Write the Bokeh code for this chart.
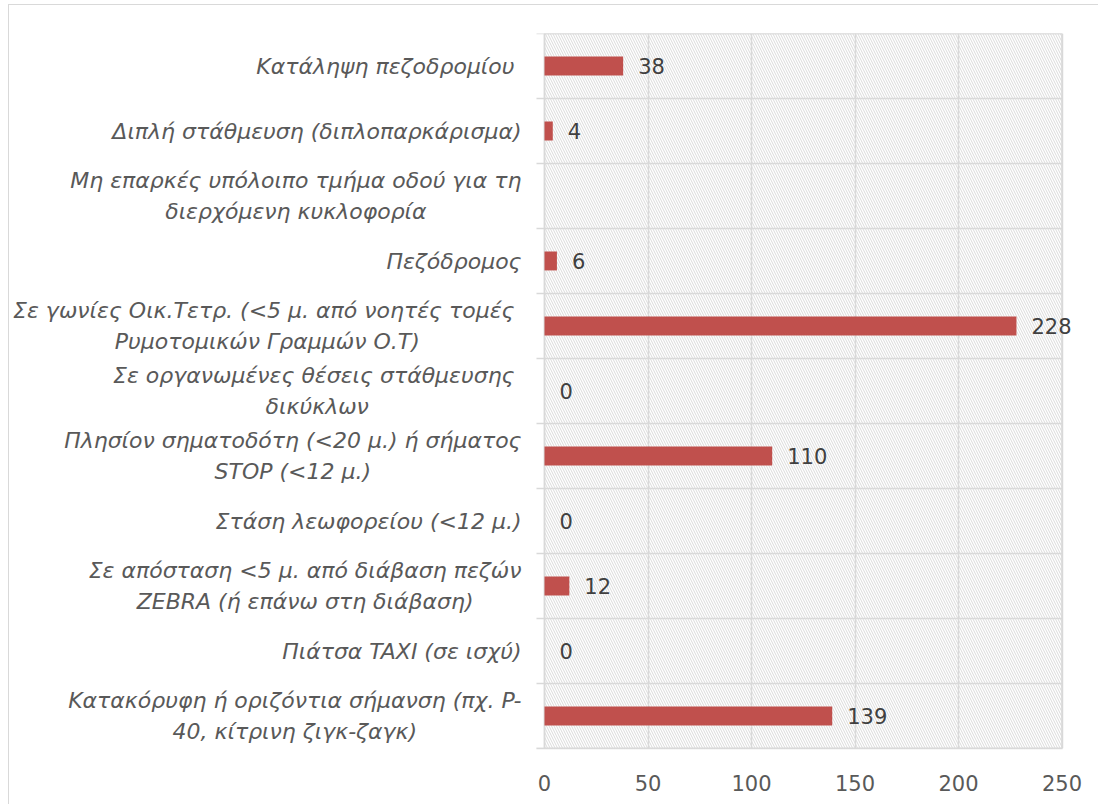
from bokeh.plotting import figure
from bokeh.models import Range1d, FixedTicker, ColumnDataSource
from bokeh.core.properties import value
from bokeh.embed import file_html
from bokeh.resources import INLINE

categories = [
    "Κατάληψη πεζοδρομίου ",
    "Διπλή στάθμευση (διπλοπαρκάρισμα)",
    "Μη επαρκές υπόλοιπο τμήμα οδού για τη\nδιερχόμενη κυκλοφορία",
    "Πεζόδρομος",
    "Σε γωνίες Οικ.Τετρ.  (<5 μ. από νοητές τομές\nΡυμοτομικών Γραμμών Ο.Τ)",
    "Σε οργανωμένες θέσεις στάθμευσης \nδικύκλων",
    "Πλησίον σηματοδότη (<20 μ.) ή σήματος\nSTOP (<12 μ.)",
    "Στάση λεωφορείου (<12 μ.)",
    "Σε απόσταση <5 μ. από διάβαση πεζών\nZEBRA (ή επάνω στη διάβαση)",
    "Πιάτσα TAXI (σε ισχύ)",
    "Κατακόρυφη ή οριζόντια σήμανση (πχ. P-\n40, κίτρινη ζιγκ-ζαγκ)",
]
values = [38, 4, None, 6, 228, 0, 110, 0, 12, 0, 139]
x_ticks = [0, 50, 100, 150, 200, 250]

FONT = "DejaVu Sans"
GRID = "#d9d9d9"
BAR = "#C0504D"

n = len(categories)
ypos = [n - 0.5 - i for i in range(n)]
bar_vals = [v if v is not None else float("nan") for v in values]
lbl_vals = [str(v) if v is not None else "" for v in values]
lbl_x = [v if v is not None else 0 for v in values]

W, H = 1090, 800
px_per = 2.07          # pixels per unit
zero_px = 535          # pixel of x=0 from canvas left
xmax = x_ticks[-1]
x_start = -zero_px / px_per
x_end = (W - zero_px) / px_per

p = figure(width=W, height=H, output_backend="svg", toolbar_location=None,
           x_range=Range1d(x_start, x_end), y_range=Range1d(0, n),
           y_axis_location=None, min_border_left=0, min_border_right=0,
           min_border_top=28, min_border_bottom=57,
           styles={"border-top": "1px solid #d9d9d9", "border-left": "1px solid #d9d9d9",
                   "margin-left": "8px", "margin-top": "4px"})
p.outline_line_color = None
p.background_fill_color = "white"
p.border_fill_color = "white"

# hatched plot area
bg = p.quad(left=[0], right=[xmax], bottom=[0], top=[n], fill_color="white",
            hatch_pattern="\\", hatch_color="#dadada", hatch_scale=5, hatch_weight=1,
            line_color=GRID, line_width=1.5, level="image")

# grid
p.ygrid.visible = False
p.xgrid.ticker = FixedTicker(ticks=x_ticks)
p.xgrid.grid_line_color = GRID
p.xgrid.grid_line_width = 1.5

# category separators with outward ticks
bounds = list(range(n + 1))
p.segment(x0=[-8 / px_per] * len(bounds), x1=[xmax] * len(bounds), y0=bounds, y1=bounds,
          line_color=GRID, line_width=1.5)

src = ColumnDataSource(dict(y=ypos, v=bar_vals, lx=lbl_x, lt=lbl_vals, cat=categories))
p.hbar(y="y", left=0, right="v", height=0.29, source=src, fill_color=BAR, line_color=None)

p.text(x="lx", y="y", text="lt", source=src, x_offset=15, text_baseline="middle",
       text_align="left", text_font=value(FONT), text_font_size="21px", text_color="#404040")

p.text(x=0, y="y", text="cat", source=src, x_offset=-23, anchor="center_right",
       text_align="center", text_baseline="middle", text_font=value(FONT),
       text_font_style="italic", text_font_size="22px", text_color="#595959",
       text_line_height=1.25)

ax = p.xaxis[0]
ax.ticker = FixedTicker(ticks=x_ticks)
ax.bounds = (-8 / px_per, xmax)
ax.axis_line_color = GRID
ax.axis_line_width = 1.5
ax.major_tick_line_color = None
ax.minor_tick_line_color = None
ax.major_label_standoff = 20
ax.major_label_text_font = FONT
ax.major_label_text_font_size = "21px"
ax.major_label_text_color = "#595959"

open("out.html", "w").write(file_html(p, INLINE))
